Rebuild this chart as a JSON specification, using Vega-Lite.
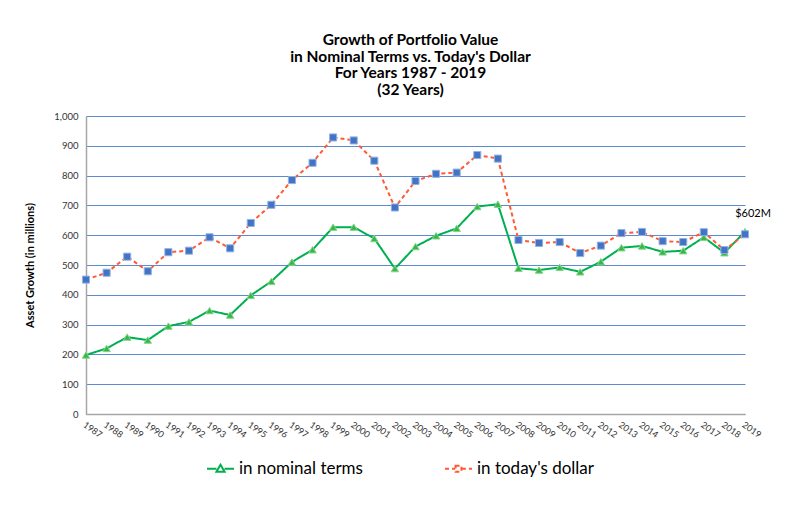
{
  "$schema": "https://vega.github.io/schema/vega-lite/v6.json",
  "width": 659,
  "height": 298,
  "autosize": {"type": "none"},
  "padding": {"left": 86, "top": 116, "right": 55, "bottom": 99},
  "background": "white",
  "config": {
    "font": "Lato",
    "view": {"stroke": null}
  },
  "title": {
    "text": ["Growth of Portfolio Value", "in Nominal Terms vs. Today's Dollar", "For Years 1987 - 2019", "(32 Years)"],
    "font": "Lato",
    "fontSize": 15.5,
    "fontWeight": "bold",
    "color": "#000000",
    "lineHeight": 16.5,
    "anchor": "middle",
    "dx": -5,
    "offset": 13
  },
  "data": {
    "values": [
      {"year": "1987", "series": "in nominal terms", "value": 198},
      {"year": "1988", "series": "in nominal terms", "value": 220},
      {"year": "1989", "series": "in nominal terms", "value": 258},
      {"year": "1990", "series": "in nominal terms", "value": 248},
      {"year": "1991", "series": "in nominal terms", "value": 295},
      {"year": "1992", "series": "in nominal terms", "value": 309},
      {"year": "1993", "series": "in nominal terms", "value": 347},
      {"year": "1994", "series": "in nominal terms", "value": 332},
      {"year": "1995", "series": "in nominal terms", "value": 398},
      {"year": "1996", "series": "in nominal terms", "value": 445},
      {"year": "1997", "series": "in nominal terms", "value": 510},
      {"year": "1998", "series": "in nominal terms", "value": 551},
      {"year": "1999", "series": "in nominal terms", "value": 627},
      {"year": "2000", "series": "in nominal terms", "value": 627},
      {"year": "2001", "series": "in nominal terms", "value": 589},
      {"year": "2002", "series": "in nominal terms", "value": 488},
      {"year": "2003", "series": "in nominal terms", "value": 562},
      {"year": "2004", "series": "in nominal terms", "value": 598},
      {"year": "2005", "series": "in nominal terms", "value": 623},
      {"year": "2006", "series": "in nominal terms", "value": 696},
      {"year": "2007", "series": "in nominal terms", "value": 704},
      {"year": "2008", "series": "in nominal terms", "value": 489},
      {"year": "2009", "series": "in nominal terms", "value": 483},
      {"year": "2010", "series": "in nominal terms", "value": 492},
      {"year": "2011", "series": "in nominal terms", "value": 477},
      {"year": "2012", "series": "in nominal terms", "value": 511},
      {"year": "2013", "series": "in nominal terms", "value": 558},
      {"year": "2014", "series": "in nominal terms", "value": 564},
      {"year": "2015", "series": "in nominal terms", "value": 544},
      {"year": "2016", "series": "in nominal terms", "value": 548},
      {"year": "2017", "series": "in nominal terms", "value": 593},
      {"year": "2018", "series": "in nominal terms", "value": 541},
      {"year": "2019", "series": "in nominal terms", "value": 612},
      {"year": "1987", "series": "in today's dollar", "value": 451},
      {"year": "1988", "series": "in today's dollar", "value": 474},
      {"year": "1989", "series": "in today's dollar", "value": 528},
      {"year": "1990", "series": "in today's dollar", "value": 479},
      {"year": "1991", "series": "in today's dollar", "value": 543},
      {"year": "1992", "series": "in today's dollar", "value": 548},
      {"year": "1993", "series": "in today's dollar", "value": 593},
      {"year": "1994", "series": "in today's dollar", "value": 556},
      {"year": "1995", "series": "in today's dollar", "value": 641},
      {"year": "1996", "series": "in today's dollar", "value": 702},
      {"year": "1997", "series": "in today's dollar", "value": 785},
      {"year": "1998", "series": "in today's dollar", "value": 843},
      {"year": "1999", "series": "in today's dollar", "value": 928},
      {"year": "2000", "series": "in today's dollar", "value": 918},
      {"year": "2001", "series": "in today's dollar", "value": 850},
      {"year": "2002", "series": "in today's dollar", "value": 693},
      {"year": "2003", "series": "in today's dollar", "value": 782},
      {"year": "2004", "series": "in today's dollar", "value": 806},
      {"year": "2005", "series": "in today's dollar", "value": 810},
      {"year": "2006", "series": "in today's dollar", "value": 869},
      {"year": "2007", "series": "in today's dollar", "value": 857},
      {"year": "2008", "series": "in today's dollar", "value": 584},
      {"year": "2009", "series": "in today's dollar", "value": 574},
      {"year": "2010", "series": "in today's dollar", "value": 577},
      {"year": "2011", "series": "in today's dollar", "value": 540},
      {"year": "2012", "series": "in today's dollar", "value": 565},
      {"year": "2013", "series": "in today's dollar", "value": 607},
      {"year": "2014", "series": "in today's dollar", "value": 611},
      {"year": "2015", "series": "in today's dollar", "value": 580},
      {"year": "2016", "series": "in today's dollar", "value": 577},
      {"year": "2017", "series": "in today's dollar", "value": 610},
      {"year": "2018", "series": "in today's dollar", "value": 550},
      {"year": "2019", "series": "in today's dollar", "value": 603}
    ]
  },
  "encoding": {
    "x": {
      "field": "year",
      "type": "ordinal",
      "scale": {"type": "point", "padding": 0},
      "axis": {
        "title": null,
        "labelAngle": 35,
        "labelAlign": "left",
        "labelBaseline": "top",
        "labelFontSize": 9,
        "labelColor": "#333333",
        "labelPadding": 6,
        "labelOverlap": false,
        "ticks": false,
        "domainColor": "#a6a6a6",
        "domainWidth": 1.5,
        "grid": false
      }
    },
    "y": {
      "field": "value",
      "type": "quantitative",
      "scale": {"domain": [0, 1000], "nice": false},
      "axis": {
        "title": "Asset Growth  (in millions)",
        "titleFontSize": 11,
        "titleFontWeight": "bold",
        "titleColor": "#000000",
        "titlePadding": 18,
        "values": [0, 100, 200, 300, 400, 500, 600, 700, 800, 900, 1000],
        "format": ",.0f",
        "labelFontSize": 9.5,
        "labelColor": "#333333",
        "labelPadding": 8,
        "ticks": false,
        "domainColor": "#a6a6a6",
        "domainWidth": 1.5,
        "grid": true,
        "gridColor": "#5b8bd0",
        "gridWidth": 1.2
      }
    }
  },
  "layer": [
    {
      "mark": {"type": "line", "strokeWidth": 2},
      "encoding": {
        "stroke": {
          "field": "series",
          "type": "nominal",
          "scale": {"domain": ["in nominal terms", "in today's dollar"], "range": ["#00b050", "#ff5a36"]},
          "legend": {
            "title": null,
            "orient": "none",
            "legendX": 120,
            "legendY": 338,
            "direction": "horizontal",
            "labelFontSize": 17,
            "labelColor": "#000000",
            "labelOffset": 4,
            "columnPadding": 78,
            "symbolSize": 729,
            "symbolStrokeWidth": 2,
            "symbolOpacity": 1,
            "labelLimit": 300
          }
        },
        "strokeDash": {
          "field": "series",
          "type": "nominal",
          "scale": {"domain": ["in nominal terms", "in today's dollar"], "range": [[1, 0], [4, 3]]}
        }
      }
    },
    {
      "transform": [{"filter": "datum.series === 'in nominal terms'"}],
      "mark": {"type": "point", "shape": "triangle-up", "filled": true, "opacity": 1, "fill": "#3cb44a", "stroke": "#7fd88a", "strokeWidth": 1, "size": 55},
      "encoding": {}
    },
    {
      "transform": [{"filter": "datum.series !== 'in nominal terms'"}],
      "mark": {"type": "point", "shape": "square", "filled": true, "opacity": 1, "fill": "#4472c4", "stroke": "#8eb4e3", "strokeWidth": 1, "size": 50},
      "encoding": {}
    },
    {
      "transform": [{"filter": "datum.year === '2019'"}],
      "mark": {"type": "point", "filled": true, "opacity": 0, "strokeWidth": 2},
      "encoding": {
        "shape": {
          "field": "series",
          "type": "nominal",
          "scale": {"domain": ["in nominal terms", "in today's dollar"], "range": ["M-1,0H-0.3M0.3,0H1M-0.3,0.22L0,-0.3L0.3,0.22Z", "M-1,0H-0.25M0.25,0H1M-0.22,-0.22H0.22V0.22H-0.22Z"]}
        },
        "fill": {
          "field": "series",
          "type": "nominal",
          "scale": {"domain": ["in nominal terms", "in today's dollar"], "range": ["#3cb44a", "#4472c4"]}
        },
        "stroke": {"field": "series", "type": "nominal"},
        "strokeDash": {"field": "series", "type": "nominal"}
      }
    },
    {
      "transform": [{"filter": "datum.year === '2019' && datum.series === \"in today's dollar\""}],
      "mark": {"type": "text", "text": "$602M", "fontSize": 11, "color": "#000000", "dx": 8, "dy": -20, "align": "center"},
      "encoding": {}
    }
  ]
}
